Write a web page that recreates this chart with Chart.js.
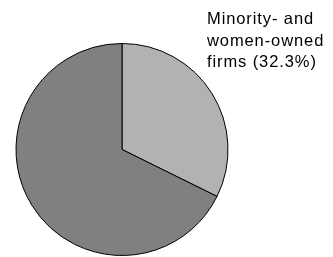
<!DOCTYPE html>
<html>
<head>
<meta charset="utf-8">
<script src="https://cdn.jsdelivr.net/npm/chart.js@4.4.1/dist/chart.umd.min.js"></script>
<style>
html,body{margin:0;padding:0;background:#fff;}
#wrap{width:333px;height:257px;position:relative;}
</style>
</head>
<body>
<div id="wrap"><canvas id="c" width="333" height="257"></canvas></div>
<script>
const categories = ["Minority- and women-owned firms", "Other firms"];
const shares = [32.3, 67.7];
const sliceColors = ["#b2b2b2", "#808080"];
const labelLines = ["Minority- and", "women-owned", "firms (32.3%)"];

const labelPlugin = {
  id: 'sliceLabel',
  afterDraw(chart) {
    const ctx = chart.ctx;
    ctx.save();
    ctx.font = '16.5px "Liberation Sans", Arial, sans-serif';
    ctx.fillStyle = '#000';
    ctx.textBaseline = 'alphabetic';
    ctx.textAlign = 'left';
    if ('letterSpacing' in ctx) ctx.letterSpacing = '0.9px';
    labelLines.forEach((t, i) => ctx.fillText(t, 207, 24 + i * 21.5));
    ctx.restore();
  }
};

new Chart(document.getElementById('c'), {
  type: 'pie',
  data: {
    labels: categories,
    datasets: [{
      data: shares,
      backgroundColor: sliceColors,
      borderColor: '#000',
      borderWidth: 1
    }]
  },
  options: {
    responsive: false,
    animation: false,
    layout: { padding: { left: 15, right: 104, top: 43, bottom: 1 } },
    plugins: { legend: { display: false }, tooltip: { enabled: false } }
  },
  plugins: [labelPlugin]
});
</script>
</body>
</html>
